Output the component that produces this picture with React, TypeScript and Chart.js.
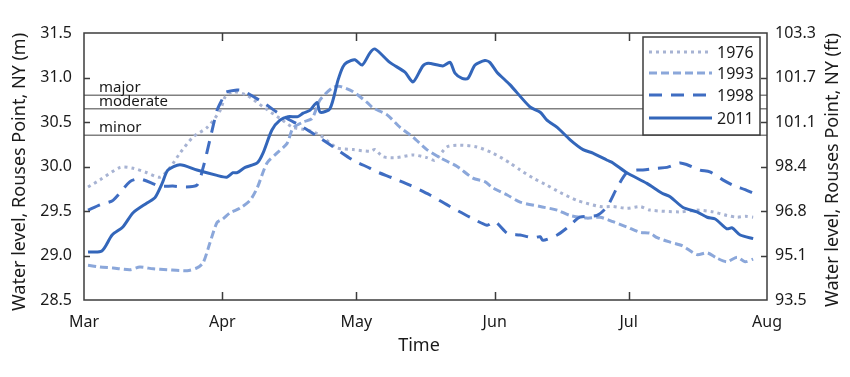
import React, { useEffect, useRef } from "react";
import { Chart, registerables } from "chart.js";

Chart.register(...registerables);

// ---- data (day index from Mar 1, water level in m) ----
const monthDays = [0, 31, 61, 92, 122, 153];
const monthLabels = ["Mar", "Apr", "May", "Jun", "Jul", "Aug"];
const yTicksM = [28.5, 29.0, 29.5, 30.0, 30.5, 31.0, 31.5];
const yTicksFt = ["93.5", "95.1", "96.8", "98.4", "101.1", "101.7", "103.3"];

const floodLevels = [30.8, 30.65, 30.35];
const floodLabels = ["major", "moderate", "minor"];

const days1976 = [0.9, 3.6, 8.1, 11.0, 14.1, 17.0, 19.3, 21.5, 24.4, 27.6, 30.5, 31.6, 33.4, 36.5, 40.1, 43.9, 46.8, 50.0, 52.9, 56.7, 60.3, 64.1, 65.2, 67.0, 70.1, 73.7, 76.8, 78.6, 81.3, 84.2, 88.0, 91.6, 95.4, 97.7, 100.6, 103.7, 106.6, 110.4, 115.6, 118.5, 121.6, 124.6, 126.8, 133.5, 137.3, 140.9, 144.0, 146.3, 148.1, 149.9];
const level1976 = [29.77, 29.85, 29.99, 29.98, 29.93, 29.88, 29.99, 30.15, 30.33, 30.44, 30.63, 30.78, 30.84, 30.8, 30.67, 30.54, 30.44, 30.41, 30.35, 30.21, 30.19, 30.17, 30.19, 30.11, 30.1, 30.13, 30.1, 30.07, 30.22, 30.24, 30.22, 30.15, 30.04, 29.96, 29.87, 29.79, 29.71, 29.62, 29.55, 29.55, 29.53, 29.55, 29.51, 29.49, 29.51, 29.49, 29.45, 29.43, 29.44, 29.43];

const days1993 = [0.9, 3.6, 6.5, 10.3, 12.5, 15.5, 18.6, 23.1, 25.3, 26.7, 28.2, 29.8, 31.1, 32.7, 34.9, 37.2, 38.8, 41.0, 43.2, 45.5, 46.8, 49.1, 51.1, 52.9, 55.8, 57.3, 60.3, 63.4, 64.7, 67.9, 70.8, 73.7, 76.8, 79.7, 83.6, 87.1, 89.8, 91.6, 94.8, 97.7, 102.2, 106.0, 108.9, 112.7, 115.6, 118.5, 121.6, 124.6, 126.8, 128.4, 131.3, 134.0, 137.3, 139.6, 141.8, 144.0, 146.3, 148.1, 149.9];
const level1993 = [28.89, 28.87, 28.86, 28.84, 28.87, 28.85, 28.84, 28.83, 28.86, 28.92, 29.14, 29.37, 29.41, 29.48, 29.53, 29.62, 29.76, 30.04, 30.15, 30.26, 30.43, 30.5, 30.54, 30.75, 30.89, 30.9, 30.84, 30.72, 30.66, 30.58, 30.44, 30.33, 30.19, 30.1, 30.0, 29.87, 29.83, 29.76, 29.68, 29.6, 29.55, 29.51, 29.45, 29.42, 29.43, 29.38, 29.32, 29.26, 29.25, 29.2, 29.15, 29.11, 29.01, 29.03, 28.97, 28.93, 28.98, 28.93, 28.96];

const days1998 = [0.9, 3.6, 6.5, 10.3, 12.5, 17.0, 19.9, 22.2, 25.3, 26.7, 28.2, 29.8, 30.9, 31.6, 34.3, 35.6, 40.1, 43.2, 45.5, 49.1, 52.9, 56.7, 60.3, 64.1, 65.6, 69.2, 73.0, 77.5, 82.0, 86.5, 90.3, 92.1, 94.8, 97.7, 100.6, 102.2, 102.8, 106.0, 108.2, 111.1, 114.9, 117.2, 119.4, 121.6, 123.9, 125.2, 128.4, 130.6, 133.5, 135.1, 138.0, 140.2, 143.1, 145.4, 148.1, 149.9];
const level1998 = [29.51, 29.57, 29.62, 29.83, 29.86, 29.78, 29.78, 29.77, 29.79, 29.99, 30.3, 30.63, 30.75, 30.83, 30.86, 30.85, 30.72, 30.61, 30.54, 30.44, 30.32, 30.19, 30.07, 29.98, 29.94, 29.87, 29.79, 29.68, 29.55, 29.43, 29.34, 29.38, 29.25, 29.23, 29.2, 29.21, 29.17, 29.23, 29.31, 29.43, 29.45, 29.55, 29.76, 29.93, 29.96, 29.96, 29.98, 29.99, 30.04, 30.02, 29.96, 29.94, 29.85, 29.79, 29.74, 29.7];

const days2011 = [0.9, 4.0, 6.3, 8.7, 11.0, 14.1, 15.9, 17.5, 18.8, 21.5, 25.3, 29.8, 32.0, 33.4, 34.3, 36.1, 38.8, 40.1, 42.1, 43.9, 45.7, 47.9, 49.1, 50.6, 52.2, 52.9, 55.1, 56.9, 58.0, 58.9, 60.7, 62.3, 64.1, 65.2, 68.5, 71.9, 73.7, 75.9, 77.1, 80.4, 82.0, 83.1, 84.7, 86.0, 87.6, 89.8, 90.9, 92.5, 95.4, 99.9, 102.2, 103.7, 106.0, 108.9, 111.8, 114.0, 117.2, 118.5, 121.6, 126.1, 129.5, 131.3, 134.2, 137.3, 139.6, 141.4, 144.0, 145.2, 147.0, 149.9];
const level2011 = [29.04, 29.05, 29.23, 29.32, 29.48, 29.59, 29.65, 29.81, 29.96, 30.02, 29.96, 29.9, 29.88, 29.93, 29.93, 29.99, 30.04, 30.15, 30.41, 30.52, 30.56, 30.56, 30.6, 30.63, 30.72, 30.61, 30.65, 30.97, 31.12, 31.17, 31.2, 31.14, 31.28, 31.32, 31.17, 31.06, 30.95, 31.13, 31.16, 31.13, 31.17, 31.05, 30.99, 30.99, 31.14, 31.19, 31.17, 31.06, 30.92, 30.67, 30.61, 30.52, 30.44, 30.3, 30.19, 30.15, 30.07, 30.04, 29.93, 29.81, 29.7, 29.66, 29.54, 29.49, 29.43, 29.41, 29.3, 29.31, 29.23, 29.19];

const seriesNames = ["1976", "1993", "1998", "2011"];

const FONT = "'Noto Sans', 'Liberation Sans', sans-serif";
const AXIS = "#3c3c3c";

const toPts = (d: number[], v: number[]) => d.map((x, i) => ({ x, y: v[i] }));

const styles = [
  { color: "#a7b3d3", dash: [3, 4], width: 3 },
  { color: "#8ba7da", dash: [8, 4], width: 3 },
  { color: "#3f6dc2", dash: [13, 9], width: 3 },
  { color: "#3366ba", dash: [] as number[], width: 3 },
];

const decor = {
  id: "decor",
  afterDraw(chart: any) {
    const { ctx, chartArea: a, scales } = chart;
    const xs = scales.x;
    const ys = scales.y;
    ctx.save();
    // legend box
    const lx = 643, ly = 37, lw = 117, lh = 98;
    ctx.fillStyle = "#fff";
    ctx.fillRect(lx, ly, lw, lh);
    ctx.strokeStyle = AXIS;
    ctx.lineWidth = 1.5;
    ctx.strokeRect(lx, ly, lw, lh);
    const rowY = [52, 73, 95, 118];
    ctx.font = `16px ${FONT}`;
    ctx.textBaseline = "middle";
    ctx.textAlign = "left";
    seriesNames.forEach((name, i) => {
      const s = styles[i];
      ctx.save();
      ctx.strokeStyle = s.color;
      ctx.lineWidth = s.width;
      ctx.setLineDash(s.dash);
      ctx.beginPath();
      ctx.moveTo(649, rowY[i]);
      ctx.lineTo(712, rowY[i]);
      ctx.stroke();
      ctx.restore();
      ctx.fillStyle = "#1a1a1a";
      ctx.fillText(name, 717, rowY[i] + 1);
    });

    // frame
    ctx.strokeStyle = AXIS;
    ctx.lineWidth = 1.5;
    ctx.setLineDash([]);
    ctx.strokeRect(a.left, a.top, a.right - a.left, a.bottom - a.top);
    // ticks inward
    ctx.beginPath();
    monthDays.slice(1, -1).forEach((d) => {
      const px = Math.round(xs.getPixelForValue(d)) + 0.5;
      ctx.moveTo(px, a.bottom);
      ctx.lineTo(px, a.bottom - 8);
      ctx.moveTo(px, a.top);
      ctx.lineTo(px, a.top + 8);
    });
    yTicksM.slice(1, -1).forEach((v) => {
      const py = Math.round(ys.getPixelForValue(v)) + 0.5;
      ctx.moveTo(a.left, py);
      ctx.lineTo(a.left + 6, py);
      ctx.moveTo(a.right, py);
      ctx.lineTo(a.right - 6, py);
    });
    ctx.stroke();

    // flood labels
    ctx.fillStyle = "#1a1a1a";
    ctx.font = `15px ${FONT}`;
    ctx.textBaseline = "alphabetic";
    ctx.textAlign = "left";
    floodLevels.forEach((v, i) => {
      ctx.fillText(floodLabels[i], 99, ys.getPixelForValue(v) - 3);
    });

    // axis titles
    ctx.font = `18px ${FONT}`;
    ctx.textAlign = "center";
    ctx.textBaseline = "middle";
    ctx.fillText("Time", 419, 346);
    ctx.save();
    ctx.translate(20, 172);
    ctx.rotate(-Math.PI / 2);
    ctx.fillText("Water level, Rouses Point, NY (m)", 0, 0);
    ctx.restore();
    ctx.save();
    ctx.translate(833, 170);
    ctx.rotate(-Math.PI / 2);
    ctx.fillText("Water level, Rouses Point, NY (ft)", 0, 0);
    ctx.restore();
    ctx.restore();
  },
};

export default function App() {
  const ref = useRef<HTMLCanvasElement | null>(null);
  useEffect(() => {
    if (!ref.current) return;
    const yearSets = [
      [days1976, level1976],
      [days1993, level1993],
      [days1998, level1998],
      [days2011, level2011],
    ].map(([d, v], i) => ({
      label: seriesNames[i],
      data: toPts(d, v),
      borderColor: styles[i].color,
      borderWidth: styles[i].width,
      borderDash: styles[i].dash,
      pointRadius: 0,
      tension: 0.25,
      fill: false,
      order: 4 - i,
    }));
    const floodSets = floodLevels.map((lv, i) => ({
      label: floodLabels[i],
      data: [
        { x: monthDays[0], y: lv },
        { x: monthDays[monthDays.length - 1], y: lv },
      ],
      borderColor: "#808080",
      borderWidth: 1.5,
      pointRadius: 0,
      fill: false,
      order: 10,
    }));
    const chart = new Chart(ref.current, {
      type: "line",
      data: { datasets: [...floodSets, ...yearSets] as any },
      options: {
        responsive: false,
        animation: false,
        layout: { padding: { top: 33, left: 0, right: 0, bottom: 0 } },
        plugins: { legend: { display: false }, tooltip: { enabled: false } },
        scales: {
          x: {
            type: "linear",
            min: monthDays[0],
            max: monthDays[monthDays.length - 1],
            grid: { display: false, drawTicks: false },
            border: { display: false },
            afterBuildTicks: (s: any) => {
              s.ticks = monthDays.map((v) => ({ value: v }));
            },
            afterFit: (s: any) => {
              s.height = 77;
            },
            ticks: {
              autoSkip: false,
              maxRotation: 0,
              padding: 13,
              color: "#1a1a1a",
              font: { size: 16, family: FONT },
              callback: (v: any) => monthLabels[monthDays.indexOf(Number(v))] ?? "",
            },
          },
          y: {
            type: "linear",
            position: "left",
            min: 28.5,
            max: 31.5,
            grid: { display: false, drawTicks: false },
            border: { display: false },
            afterBuildTicks: (s: any) => {
              s.ticks = yTicksM.map((v) => ({ value: v }));
            },
            afterFit: (s: any) => {
              s.width = 84;
            },
            ticks: {
              padding: 12,
              color: "#1a1a1a",
              font: { size: 16, family: FONT },
              callback: (v: any) => Number(v).toFixed(1),
            },
          },
          y2: {
            type: "linear",
            position: "right",
            min: 28.5,
            max: 31.5,
            grid: { display: false, drawTicks: false },
            border: { display: false },
            afterBuildTicks: (s: any) => {
              s.ticks = yTicksM.map((v) => ({ value: v }));
            },
            afterFit: (s: any) => {
              s.width = 83;
            },
            ticks: {
              padding: 8,
              color: "#1a1a1a",
              font: { size: 16, family: FONT },
              callback: (v: any) => yTicksFt[yTicksM.indexOf(Number(v))] ?? "",
            },
          },
        },
      } as any,
      plugins: [decor],
    });
    return () => chart.destroy();
  }, []);
  return (
    <div style={{ position: "absolute", left: 0, top: 0, width: 850, height: 377, background: "#fff" }}>
      <canvas ref={ref} width={850} height={377} style={{ display: "block" }} />
    </div>
  );
}
